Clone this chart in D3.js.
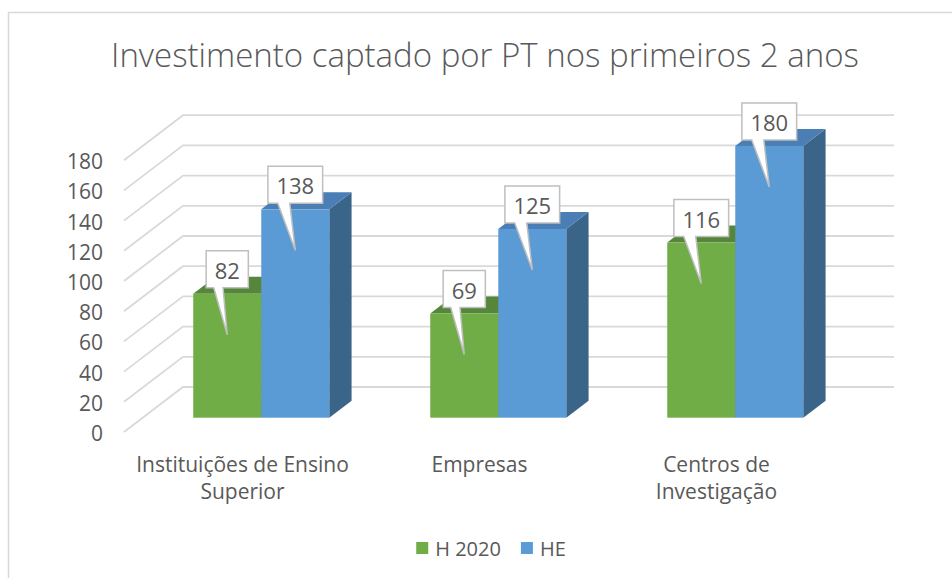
<!DOCTYPE html>
<html>
<head>
<meta charset="utf-8">
<script src="https://cdn.jsdelivr.net/npm/d3@7"></script>
<style>
  body { margin: 0; background: #fff; }
  text { font-family: "Open Sans", "DejaVu Sans", sans-serif; fill: #595959; }
</style>
</head>
<body>
<svg id="chart" width="952" height="578"></svg>
<script>
const categories = ["Instituições de Ensino Superior", "Empresas", "Centros de Investigação"];
const categoryLines = [["Instituições de Ensino", "Superior"], ["Empresas"], ["Centros de", "Investigação"]];
const seriesNames = ["H 2020", "HE"];
const h2020 = [82, 69, 116];
const he = [138, 125, 180];
const yTicks = [0, 20, 40, 60, 80, 100, 120, 140, 160, 180];

const frontColors = ["#70ad47", "#5b9bd5"],
    topColors = ["#56863a", "#4a7eb5"],
    sideColors = ["#41672a", "#3a6488"];

const svg = d3.select("#chart");

// oblique 3d: front floor origin, depth vector
const x0 = 124, floorY = 432, depthX = 59, depthY = -45;
const barD0 = 0.318, barD1 = 0.696;

const x = d3.scaleBand().domain(categories).range([x0, 835]).paddingInner(0.426).paddingOuter(0.213);
const xs = d3.scaleBand().domain(seriesNames).range([0, x.bandwidth()]);
const y = d3.scaleLinear().domain([0, 180]).range([0, 271.8]);

const P = (px, v, d) => [px + depthX * d, floorY - y(v) + depthY * d];

svg.append("rect").attr("x", 8.5).attr("y", 12.5).attr("width", 960).attr("height", 600)
    .attr("fill", "#fff").attr("stroke", "#d9d9d9").attr("stroke-width", 1.5);

svg.append("text").attr("x", 485).attr("y", 67).attr("text-anchor", "middle")
    .style("font-size", "33px").style("font-weight", 300)
    .text("Investimento captado por PT nos primeiros 2 anos");

// gridlines: side wall + back wall
const line = d3.line();
svg.append("g").selectAll("path").data(yTicks).join("path")
    .attr("d", v => line([P(x0, v, 0), P(x0, v, 1), P(835, v, 1)]))
    .attr("fill", "none").attr("stroke", "#d9d9d9").attr("stroke-width", 1.8);

svg.append("g").selectAll("text").data(yTicks).join("text")
    .attr("x", 103).attr("y", v => P(x0, v, 0)[1] + 1)
    .attr("text-anchor", "end").attr("dominant-baseline", "central")
    .style("font-size", "21px").text(v => v);

// bars
const values = [h2020, he];
const bars = [];
categories.forEach((c, i) => {
    seriesNames.forEach((s, j) => {
        bars.push({ c, s, j, v: values[j][i], xa: x(c) + xs(s), xb: x(c) + xs(s) + xs.bandwidth() });
    });
});

const gBars = svg.append("g");
bars.forEach(b => {
    const g = gBars.append("g");
    g.append("path")
        .attr("d", line([P(b.xb, 0, barD0), P(b.xb, b.v, barD0), P(b.xb, b.v, barD1), P(b.xb, 0, barD1)]) + "Z")
        .attr("fill", sideColors[b.j]);
    g.append("path")
        .attr("d", line([P(b.xa, b.v, barD0), P(b.xb, b.v, barD0), P(b.xb, b.v, barD1), P(b.xa, b.v, barD1)]) + "Z")
        .attr("fill", topColors[b.j]);
    const f0 = P(b.xa, b.v, barD0), f1 = P(b.xb, 0, barD0);
    g.append("rect").attr("x", f0[0]).attr("y", f0[1]).attr("width", f1[0] - f0[0]).attr("height", f1[1] - f0[1])
        .attr("fill", frontColors[b.j]);
});

// callout data labels
const gLabels = svg.append("g");
bars.forEach(b => {
    const topPt = P((b.xa + b.xb) / 2, b.v, barD0);
    const tipX = topPt[0], tipY = topPt[1] + 41;
    const g = gLabels.append("g");
    const path = g.append("path");
    const t = g.append("text").attr("x", tipX).attr("y", tipY - 65).attr("text-anchor", "middle")
        .attr("dominant-baseline", "central").style("font-size", "22px").text(b.v);
    const w = t.node().getComputedTextLength() + 17, h = 37;
    const l = tipX - w / 2, r = tipX + w / 2, bot = tipY - 47, top = bot - h;
    path.attr("d", `M${l},${top}L${r},${top}L${r},${bot}L${tipX - 0.1 * w},${bot}L${tipX},${tipY}L${tipX - 0.32 * w},${bot}L${l},${bot}Z`)
        .attr("fill", "#fff").attr("stroke", "#bfbfbf").attr("stroke-width", 1.5);
});

// category labels
svg.append("g").selectAll("text").data(categories).join("text")
    .attr("text-anchor", "middle").style("font-size", "21px")
    .attr("x", c => x(c) + x.bandwidth() / 2)
    .attr("y", 472)
    .each(function (c, i) {
        d3.select(this).selectAll("tspan").data(categoryLines[i]).join("tspan")
            .attr("x", x(c) + x.bandwidth() / 2).attr("dy", (d, k) => k === 0 ? 0 : 27).text(d => d);
    });

// legend
const legend = svg.append("g");
let lx = 0;
seriesNames.forEach((s, j) => {
    const g = legend.append("g");
    g.append("rect").attr("width", 12).attr("height", 12).attr("y", -6).attr("fill", frontColors[j]);
    const t = g.append("text").attr("x", 19).attr("dominant-baseline", "central").style("font-size", "20px").text(s);
    g.attr("transform", `translate(${lx},0)`);
    lx += 19 + t.node().getComputedTextLength() + 20;
});
const legendW = lx - 20;
legend.attr("transform", `translate(${491 - legendW / 2},548)`);
</script>
</body>
</html>
